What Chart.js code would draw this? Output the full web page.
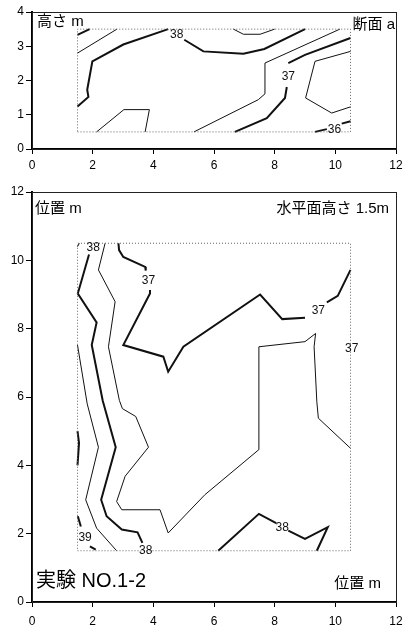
<!DOCTYPE html>
<html>
<head>
<meta charset="utf-8">
<script src="https://cdn.jsdelivr.net/npm/chart.js@4/dist/chart.umd.min.js"></script>
<style>
  html, body { margin: 0; padding: 0; background: #fff; }
  #wrap { position: relative; width: 415px; height: 627px; overflow: hidden; }
  canvas { position: absolute; left: 0; }
  #section { top: 0; }
  #plan { top: 180px; }
</style>
</head>
<body>
<div id="wrap">
  <canvas id="section" width="415" height="170" style="width:415px;height:170px"></canvas>
  <canvas id="plan" width="415" height="447" style="width:415px;height:447px"></canvas>
</div>
<script>
// ---- axis ticks ----
const X_TICKS = [0, 2, 4, 6, 8, 10, 12];
const SECTION_Y_TICKS = [0, 1, 2, 3, 4];
const PLAN_Y_TICKS = [0, 2, 4, 6, 8, 10, 12];

// ---- measured region (dotted outline), [x, y] corners ----
const SECTION_REGION = [[1.5, 0.5], [10.5, 0.5], [10.5, 3.5], [1.5, 3.5], [1.5, 0.5]];
const PLAN_REGION = [[1.5, 1.5], [10.5, 1.5], [10.5, 10.5], [1.5, 10.5], [1.5, 1.5]];

// ---- section a: isotherms, [x, y] in metres ----
const secCorner = [[1.5, 3.33], [1.9, 3.5]];
const secUpperLeft = [[1.5, 2.8], [2.8, 3.5]];
const sec38West = [[1.5, 1.24], [1.86, 1.52], [1.82, 1.73], [1.99, 2.56], [3.01, 3.05], [4.49, 3.5]];
const sec38East = [[5.02, 3.19], [5.65, 2.85], [6.97, 2.78], [7.66, 2.92], [9.0, 3.5]];
const secTopBump = [[6.64, 3.5], [6.97, 3.35], [7.52, 3.35], [8.0, 3.5]];
const secMiddle = [[5.34, 0.5], [7.46, 1.44], [7.68, 1.61], [7.68, 2.51], [10.15, 3.5]];
const sec37Low = [[6.69, 0.5], [7.74, 0.9], [8.34, 1.49], [8.4, 1.81]];
const sec37High = [[8.45, 2.51], [9.0, 2.75], [10.5, 3.24]];
const secEastLoop = [[10.5, 2.85], [9.33, 2.56], [9.02, 1.49], [9.88, 1.05], [10.5, 1.23]];
const sec36West = [[9.33, 0.5], [9.72, 0.58]];
const sec36East = [[10.21, 0.74], [10.5, 0.81]];
const secLowLoop = [[2.13, 0.5], [3.03, 1.15], [3.87, 1.15], [3.73, 0.5]];

const SECTION_VALUES = [
  { x: 4.77, y: 3.34, t: '38' },
  { x: 8.45, y: 2.12, t: '37' },
  { x: 9.97, y: 0.56, t: '36' }
];

// ---- horizontal plane at 1.5 m: isotherms ----
const planNorthTick = [[1.5, 10.4], [1.56, 10.5]];
const plan38 = [[1.88, 10.17], [1.51, 9.03], [2.13, 8.18], [1.97, 7.52], [2.33, 5.9], [2.76, 4.53],
                [2.28, 2.99], [2.46, 2.51], [2.96, 2.12], [3.48, 2.04], [3.64, 1.73]];
const planWest = [[1.5, 7.52], [1.82, 5.8], [2.19, 4.53], [1.77, 2.99], [2.13, 2.16], [2.79, 1.5]];
const planInner = [[2.41, 10.5], [2.19, 9.72], [2.74, 8.79], [2.52, 7.47], [2.88, 5.9], [2.98, 5.66],
                   [3.42, 5.43], [3.84, 4.53], [3.07, 3.68], [2.79, 2.94], [2.96, 2.7], [4.22, 2.7],
                   [4.49, 2.02], [5.7, 3.14], [7.48, 4.46], [7.48, 7.47], [9.0, 7.62], [9.35, 7.86],
                   [9.3, 7.47], [9.39, 5.86], [9.44, 5.38], [10.5, 4.5]];
const plan37North = [[2.85, 10.5], [2.87, 10.3], [3.01, 10.1], [3.73, 9.81], [3.75, 9.7]];
const plan37Middle = [[3.89, 9.13], [3.89, 9.03], [3.01, 7.52], [4.33, 7.18], [4.49, 6.74], [4.99, 7.47],
                      [7.52, 9.0], [8.25, 8.28], [9.0, 8.32]];
const plan37East = [[9.72, 8.77], [10.08, 8.96], [10.5, 9.72]];
const planWestEdge = [[1.5, 5.0], [1.55, 4.65], [1.5, 4.0]];
const plan39North = [[1.51, 2.51], [1.61, 2.21]];
const plan39South = [[1.91, 1.63], [2.1, 1.53]];
const plan38SouthWest = [[6.14, 1.5], [7.48, 2.58], [8.05, 2.31]];
const plan38SouthEast = [[8.45, 2.09], [9.0, 1.85], [9.75, 2.19], [9.39, 1.5]];

const PLAN_VALUES = [
  { x: 2.02, y: 10.38, t: '38' },
  { x: 3.84, y: 9.4, t: '37' },
  { x: 9.44, y: 8.52, t: '37' },
  { x: 10.54, y: 7.42, t: '37' },
  { x: 1.75, y: 1.87, t: '39' },
  { x: 3.75, y: 1.5, t: '38' },
  { x: 8.25, y: 2.17, t: '38' }
];

const LATIN = '"Liberation Sans", Arial, sans-serif';
const MIXED = '"Liberation Sans", "Noto Sans CJK JP", sans-serif';

function line(pairs, width, dash) {
  return {
    data: pairs.map(([x, y]) => ({ x, y })),
    showLine: true,
    borderColor: dash ? '#666' : '#111',
    borderWidth: width,
    borderDash: dash || [],
    pointRadius: 0,
    tension: 0,
    fill: false,
    borderJoinStyle: 'miter'
  };
}

// closed frame around the plotting area
const framePlugin = {
  id: 'frame',
  beforeDatasetsDraw(chart) {
    const { ctx, chartArea: a } = chart;
    ctx.save();
    ctx.strokeStyle = '#222';
    ctx.lineWidth = 1;
    ctx.strokeRect(Math.round(a.left) + 0.5, Math.round(a.top) + 0.5,
                   Math.round(a.right - a.left), Math.round(a.bottom - a.top));
    ctx.restore();
  }
};

// isotherm values, placed in data space
const valuePlugin = {
  id: 'isoValues',
  afterDatasetsDraw(chart, args, opts) {
    const { ctx, scales } = chart;
    ctx.save();
    ctx.fillStyle = '#111';
    ctx.font = '12px ' + LATIN;
    ctx.textAlign = 'center';
    ctx.textBaseline = 'middle';
    (opts.items || []).forEach(v => {
      ctx.fillText(v.t, scales.x.getPixelForValue(v.x), scales.y.getPixelForValue(v.y));
    });
    ctx.restore();
  }
};

// captions anchored to corners of the plotting area
const captionPlugin = {
  id: 'captions',
  afterDraw(chart, args, opts) {
    const { ctx, chartArea: a } = chart;
    ctx.save();
    ctx.fillStyle = '#000';
    ctx.textBaseline = 'middle';
    (opts.items || []).forEach(c => {
      ctx.font = c.size + 'px ' + MIXED;
      const right = c.corner.includes('r');
      const bottom = c.corner.includes('b');
      ctx.textAlign = right ? 'right' : 'left';
      const x = (right ? a.right : a.left) + c.dx;
      const y = (bottom ? a.bottom : a.top) + c.dy;
      ctx.fillText(c.text, x, y);
    });
    ctx.restore();
  }
};

function makeChart(id, cfg) {
  const axisCommon = {
    type: 'linear',
    border: { display: true, color: '#000', width: 2 },
    grid: { drawOnChartArea: false, drawTicks: true, color: '#000', lineWidth: 1 }
  };
  return new Chart(document.getElementById(id), {
    type: 'scatter',
    data: { datasets: cfg.datasets },
    options: {
      responsive: false,
      animation: false,
      events: [],
      layout: { padding: { left: 0, right: 19, top: 12, bottom: 0 } },
      scales: {
        x: {
          ...axisCommon,
          min: X_TICKS[0], max: X_TICKS[X_TICKS.length - 1],
          afterBuildTicks: s => { s.ticks = X_TICKS.map(v => ({ value: v })); },
          afterFit: s => { s.height = cfg.xHeight; },
          grid: { ...axisCommon.grid, tickLength: 5 },
          ticks: { color: '#000', font: { family: LATIN, size: 12 }, padding: cfg.xPad, maxRotation: 0, autoSkip: false }
        },
        y: {
          ...axisCommon,
          min: cfg.yTicks[0], max: cfg.yTicks[cfg.yTicks.length - 1],
          afterBuildTicks: s => { s.ticks = cfg.yTicks.map(v => ({ value: v })); },
          afterFit: s => { s.width = 32; },
          grid: { ...axisCommon.grid, tickLength: 6 },
          ticks: { color: '#000', font: { family: LATIN, size: 12 }, padding: 2, autoSkip: false }
        }
      },
      plugins: {
        legend: { display: false },
        tooltip: { enabled: false },
        isoValues: { items: cfg.values },
        captions: { items: cfg.captions }
      }
    },
    plugins: [framePlugin, valuePlugin, captionPlugin]
  });
}

makeChart('section', {
  yTicks: SECTION_Y_TICKS,
  xHeight: 21,
  xPad: 4,
  values: SECTION_VALUES,
  captions: [
    { text: '高さ m', size: 15, corner: 'tl', dx: 5, dy: 10 },
    { text: '断面 a', size: 15, corner: 'tr', dx: -1, dy: 13 }
  ],
  datasets: [
    line(SECTION_REGION, 1, [1, 2]),
    line(secCorner, 2), line(secUpperLeft, 1),
    line(sec38West, 2), line(sec38East, 2),
    line(secTopBump, 1), line(secMiddle, 1),
    line(sec37Low, 2), line(sec37High, 2),
    line(secEastLoop, 1),
    line(sec36West, 2), line(sec36East, 2),
    line(secLowLoop, 1)
  ]
});

makeChart('plan', {
  yTicks: PLAN_Y_TICKS,
  xHeight: 25,
  xPad: 7,
  values: PLAN_VALUES,
  captions: [
    { text: '位置 m', size: 15, corner: 'tl', dx: 3, dy: 16.5 },
    { text: '水平面高さ 1.5m', size: 15, corner: 'tr', dx: -7, dy: 16.5 },
    { text: '実験 NO.1-2', size: 20, corner: 'bl', dx: 4, dy: -21 },
    { text: '位置 m', size: 15, corner: 'br', dx: -15, dy: -18.5 }
  ],
  datasets: [
    line(PLAN_REGION, 1, [1, 2]),
    line(planNorthTick, 1),
    line(plan38, 2),
    line(planWest, 1),
    line(planInner, 1),
    line(plan37North, 2), line(plan37Middle, 2), line(plan37East, 2),
    line(planWestEdge, 2),
    line(plan39North, 2), line(plan39South, 2),
    line(plan38SouthWest, 2), line(plan38SouthEast, 2)
  ]
});
</script>
</body>
</html>
